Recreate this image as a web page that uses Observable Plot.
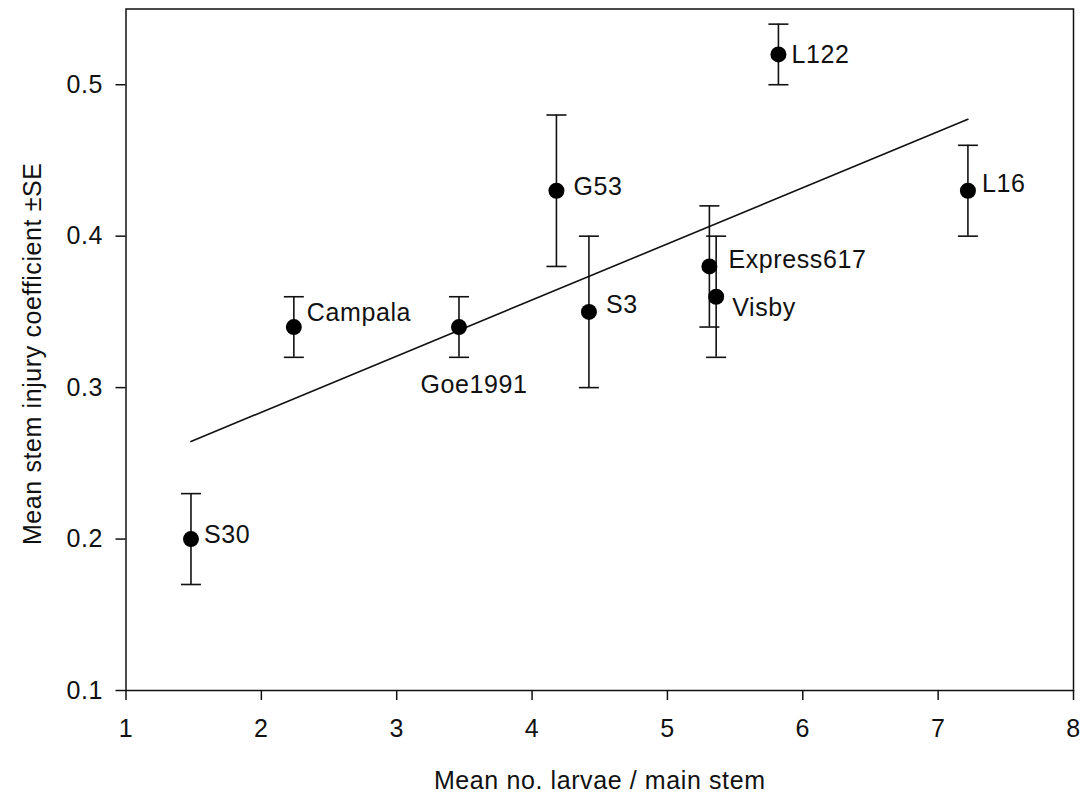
<!DOCTYPE html>
<html>
<head>
<meta charset="utf-8">
<script src="https://cdn.jsdelivr.net/npm/d3@7"></script>
<script src="https://cdn.jsdelivr.net/npm/@observablehq/plot@0.6"></script>
<style>
  html, body { margin: 0; padding: 0; background: #fff; }
  #chart svg { display: block; }
  #chart svg text { letter-spacing: 0.6px; }
</style>
</head>
<body>
<div id="chart"></div>
<script>
// ---- data ----
const cultivars = ["S30", "Campala", "Goe1991", "G53", "S3", "Express617", "Visby", "L122", "L16"];
const larvae    = [1.48, 2.24, 3.46, 4.18, 4.42, 5.31, 5.36, 5.82, 7.22];
const injury    = [0.20, 0.34, 0.34, 0.43, 0.35, 0.38, 0.36, 0.52, 0.43];
const se        = [0.03, 0.02, 0.02, 0.05, 0.05, 0.04, 0.04, 0.02, 0.03];
const xTicks    = [1, 2, 3, 4, 5, 6, 7, 8];
const yTicks    = [0.1, 0.2, 0.3, 0.4, 0.5];
const xTitle    = "Mean no. larvae / main stem";
const yTitle    = "Mean stem injury coefficient ±SE";

const data = cultivars.map((name, i) => ({
  name, x: larvae[i], y: injury[i], lo: injury[i] - se[i], hi: injury[i] + se[i]
}));

// ---- label placement (layout only, pixels) ----
const labelPlacement = {
  S30:        {dx: 13, dy: -4,  anchor: "start"},
  Campala:    {dx: 13, dy: -14, anchor: "start"},
  Goe1991:    {dx: 15, dy: 58,  anchor: "middle"},
  G53:        {dx: 17, dy: -4,  anchor: "start"},
  S3:         {dx: 17, dy: -7,  anchor: "start"},
  Express617: {dx: 19, dy: -6,  anchor: "start"},
  Visby:      {dx: 16, dy: 11,  anchor: "start"},
  L122:       {dx: 13, dy: 1,   anchor: "start"},
  L16:        {dx: 14, dy: -7,  anchor: "start"}
};

const capSymbol = {
  draw(context) { context.moveTo(-10, 0); context.lineTo(10, 0); }
};

const font = "'Liberation Sans', Arial, Helvetica, sans-serif";
const ink = "#111";

const labelMarks = cultivars.map(name => {
  const p = labelPlacement[name];
  return Plot.text(data.filter(d => d.name === name), {
    x: "x", y: "y", text: "name",
    dx: p.dx, dy: p.dy, textAnchor: p.anchor, lineAnchor: "middle",
    fontSize: 25, fill: ink
  });
});

const chart = Plot.plot({
  width: 1092,
  height: 795,
  marginLeft: 125.5,
  marginRight: 19,
  marginTop: 8.5,
  marginBottom: 105,
  style: {fontFamily: font, fontSize: "25px", color: ink, background: "#fff"},
  x: {domain: [1, 8]},
  y: {domain: [0.1, 0.55]},
  marks: [
    Plot.frame({stroke: ink, strokeWidth: 1.5}),
    Plot.axisX({ticks: xTicks, tickSize: 10, tickPadding: 19, strokeWidth: 1.5, fontSize: 25,
      label: null, tickFormat: d3.format("d")}),
    Plot.axisY({ticks: yTicks, tickSize: 10, tickPadding: 13, strokeWidth: 1.5, fontSize: 25,
      label: null, tickFormat: d3.format(".1f")}),
    Plot.text([xTitle], {text: d => d, frameAnchor: "bottom", dy: 90.5,
      textAnchor: "middle", lineAnchor: "middle", fontSize: 25, fill: ink}),
    Plot.text([yTitle], {text: d => d, frameAnchor: "left", dx: -93, dy: 4, rotate: -90,
      textAnchor: "middle", lineAnchor: "middle", fontSize: 25, fill: ink}),
    Plot.linearRegressionY(data, {x: "x", y: "y", ci: 0, stroke: ink, strokeWidth: 1.6}),
    Plot.ruleX(data, {x: "x", y1: "lo", y2: "hi", stroke: ink, strokeWidth: 1.6}),
    Plot.dot(data, {x: "x", y: "lo", symbol: capSymbol, stroke: ink, strokeWidth: 1.6, fill: "none", r: 10}),
    Plot.dot(data, {x: "x", y: "hi", symbol: capSymbol, stroke: ink, strokeWidth: 1.6, fill: "none", r: 10}),
    Plot.dot(data, {x: "x", y: "y", r: 8, fill: "#000", stroke: "none"}),
    ...labelMarks
  ]
});

document.getElementById("chart").appendChild(chart);
</script>
</body>
</html>
